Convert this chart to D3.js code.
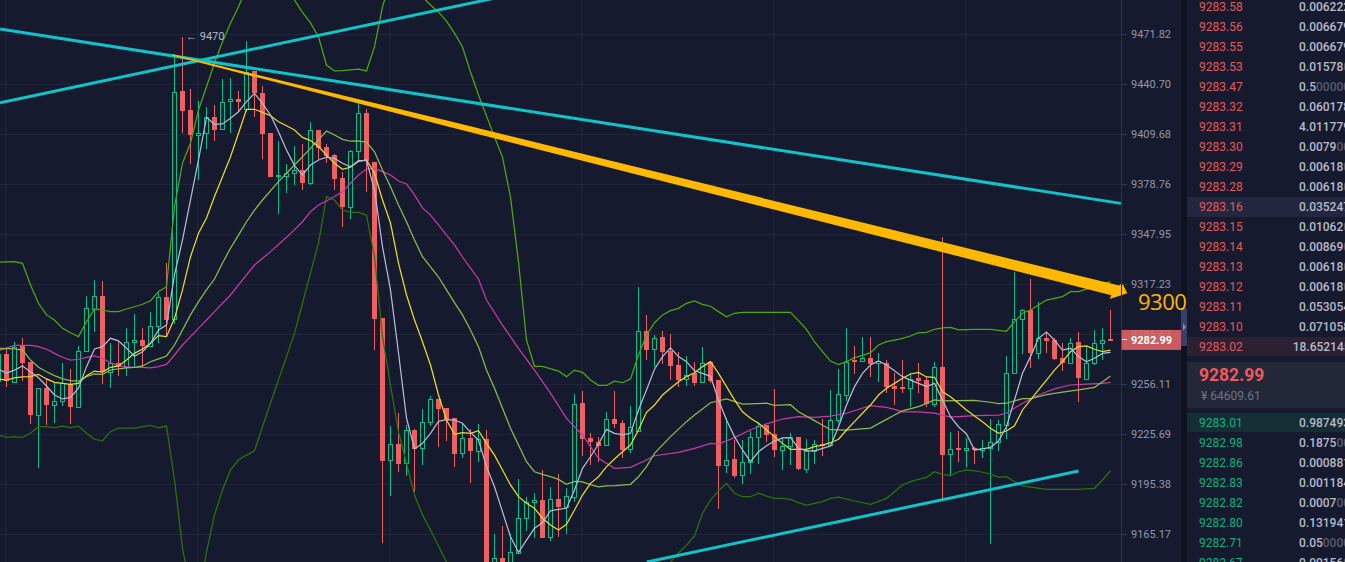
<!DOCTYPE html>
<html>
<head>
<meta charset="utf-8">
<title>chart</title>
<script src="https://cdn.jsdelivr.net/npm/d3@7"></script>
<style>
html, body { margin: 0; padding: 0; background: #161a2e; overflow: hidden; }
svg { display: block; font-family: Roboto, sans-serif; }
</style>
</head>
<body>
<svg width="1345" height="562"></svg>
<script>
// candles start at index -1, rows are open, high, low, close
const firstIdx = -1;
const candles = [
[9257.9,9276.8,9252.4,9274.4],[9274.4,9277.3,9254.5,9257.9],[9257.5,9281.5,9256.5,9278.7],[9279.7,9284.0,9257.9,9269.1],
[9269.3,9269.3,9231.8,9237.4],[9237.4,9253.5,9205.2,9253.5],[9253.7,9259.6,9231.2,9243.5],[9243.5,9257.5,9232.2,9245.9],
[9245.9,9269.1,9242.9,9256.5],[9256.1,9265.1,9231.6,9242.3],[9242.3,9279.1,9242.3,9276.0],[9276.0,9309.8,9276.0,9302.3],
[9302.1,9319.7,9288.0,9309.6],[9309.8,9318.9,9255.9,9263.6],[9263.6,9280.9,9253.9,9268.7],[9268.7,9281.9,9261.2,9266.3],
[9266.7,9290.1,9261.2,9281.5],[9281.5,9299.0,9266.7,9282.8],[9282.8,9290.5,9266.7,9279.5],[9279.5,9299.9,9278.9,9291.7],
[9291.7,9311.5,9281.3,9309.1],[9309.2,9330.1,9285.4,9295.2],[9295.6,9457.7,9292.7,9435.9],[9436.4,9470.1,9410.1,9424.1],
[9424.6,9437.6,9391.1,9409.2],[9409.2,9430.2,9381.1,9410.1],[9410.1,9426.3,9400.2,9420.1],[9420.1,9427.7,9405.6,9412.4],
[9412.6,9443.8,9412.6,9429.7],[9430.0,9444.2,9410.5,9431.2],[9431.2,9436.2,9423.5,9429.7],[9425.0,9467.3,9423.5,9448.4],
[9448.8,9449.0,9420.1,9434.9],[9434.9,9439.5,9394.1,9409.7],[9410.3,9410.3,9383.3,9383.3],[9383.5,9405.4,9360.3,9384.2],
[9383.9,9391.1,9373.0,9385.4],[9385.4,9402.5,9378.0,9387.3],[9387.3,9403.5,9375.2,9379.6],[9379.6,9417.0,9378.3,9412.0],
[9412.2,9412.2,9394.1,9401.2],[9401.6,9403.3,9391.6,9396.1],[9396.7,9397.3,9375.1,9381.8],[9382.5,9386.4,9352.5,9364.6],
[9364.8,9399.6,9357.2,9399.3],[9399.3,9428.7,9392.8,9422.5],[9422.7,9425.0,9374.1,9392.8],[9392.4,9392.4,9277.0,9296.0],
[9296.4,9296.4,9159.9,9209.5],[9209.7,9230.6,9188.1,9219.4],[9219.6,9238.3,9202.8,9207.7],[9207.9,9231.2,9200.4,9227.9],
[9228.1,9228.7,9190.7,9216.6],[9217.0,9241.1,9206.9,9233.2],[9233.2,9248.9,9230.7,9246.8],[9247.0,9247.0,9218.0,9240.9],
[9241.3,9241.3,9221.4,9234.2],[9235.4,9235.4,9205.9,9213.7],[9214.0,9231.6,9211.3,9223.0],[9223.0,9228.7,9196.2,9215.5],
[9215.5,9231.6,9208.9,9222.4],[9222.4,9228.1,9134.5,9140.5],[9142.3,9165.0,9137.4,9150.5],[9150.5,9170.0,9137.4,9143.5],
[9144.7,9165.0,9138.6,9154.1],[9153.9,9198.2,9153.9,9174.7],[9174.7,9187.4,9167.2,9184.3],[9184.3,9189.8,9162.6,9185.5],
[9185.7,9203.9,9162.9,9162.9],[9163.2,9193.7,9161.1,9186.1],[9186.3,9201.4,9163.2,9181.5],[9181.7,9192.8,9165.2,9187.9],
[9187.7,9250.0,9184.5,9244.1],[9244.5,9251.6,9212.3,9222.8],[9223.3,9226.1,9206.7,9220.8],[9220.8,9224.1,9208.9,9218.4],
[9218.8,9239.1,9218.8,9234.6],[9234.6,9252.0,9229.5,9232.0],[9232.2,9234.2,9210.9,9216.0],[9216.4,9242.9,9214.3,9229.8],
[9227.7,9315.6,9227.7,9288.3],[9288.5,9298.0,9270.9,9277.0],[9277.3,9286.0,9266.7,9284.3],[9284.8,9288.5,9268.5,9275.8],
[9276.4,9286.4,9258.7,9267.1],[9267.7,9275.6,9254.5,9258.5],[9259.0,9273.2,9254.7,9261.8],[9262.6,9269.3,9255.1,9256.9],
[9257.1,9278.9,9257.1,9268.7],[9269.3,9269.7,9256.5,9257.9],[9258.7,9258.7,9180.1,9206.5],[9206.7,9235.4,9202.2,9210.1],
[9210.5,9222.0,9199.0,9200.4],[9200.6,9221.8,9195.6,9208.5],[9208.7,9227.5,9201.6,9223.7],[9223.7,9233.2,9207.7,9230.7],
[9230.9,9230.9,9220.7,9225.3],[9225.7,9252.8,9211.7,9216.2],[9216.2,9223.7,9204.1,9218.2],[9218.2,9226.1,9206.9,9223.7],
[9223.9,9223.9,9204.1,9204.5],[9204.6,9222.5,9202.0,9215.4],[9215.2,9222.2,9207.7,9219.4],[9219.8,9234.6,9212.3,9218.2],
[9218.8,9252.3,9218.8,9234.0],[9234.0,9265.1,9232.2,9249.8],[9249.6,9290.5,9245.9,9269.7],[9270.7,9279.3,9262.2,9269.7],
[9269.9,9284.8,9269.9,9271.8],[9271.8,9285.0,9260.6,9268.5],[9268.9,9274.8,9257.1,9270.1],[9268.7,9270.7,9250.8,9254.5],
[9254.9,9263.0,9243.3,9253.2],[9254.5,9270.7,9250.5,9253.1],[9253.5,9262.6,9242.3,9259.3],[9259.6,9268.7,9250.5,9258.1],
[9258.5,9260.6,9242.3,9243.9],[9243.9,9269.7,9242.3,9266.3],[9266.3,9346.3,9186.3,9212.9],[9213.4,9227.1,9200.4,9216.4],
[9217.0,9227.5,9208.9,9216.2],[9216.2,9223.0,9205.5,9217.0],[9217.0,9218.0,9207.5,9216.0],[9216.2,9222.0,9211.3,9217.4],
[9217.0,9234.8,9158.9,9220.7],[9220.8,9234.2,9215.5,9231.6],[9231.3,9273.4,9222.7,9262.6],[9262.6,9324.8,9262.6,9295.6],
[9295.6,9301.9,9274.2,9301.1],[9301.1,9320.1,9266.0,9275.2],[9275.2,9306.0,9271.4,9284.2],[9284.0,9288.0,9274.8,9282.5],
[9282.9,9284.0,9270.7,9271.4],[9271.8,9280.9,9264.2,9268.7],[9269.1,9284.3,9269.1,9281.3],[9281.5,9287.8,9244.9,9259.6],
[9259.3,9279.5,9258.5,9268.7],[9268.7,9289.1,9267.7,9281.3],[9281.3,9290.1,9270.7,9282.8],[9283.6,9301.3,9283.0,9283.0]
];

// moving averages, one value per candle from index -1
const ma5 = [9265.1,9262.8,9264.6,9267.1,9263.6,9259.9,9254.9,9249.4,9247.0,9248.0,9253.5,9266.7,9277.5,9278.9,9284.0,9282.4,9277.9,9273.0,9275.8,9280.9,
9289.1,9292.1,9322.8,9344.3,9368.9,9393.6,9420.0,9415.7,9415.9,9419.4,9423.5,9429.7,9434.9,9428.7,9421.4,9411.1,9399.8,9390.1,9384.3,9390.5,
9393.6,9395.3,9394.6,9391.6,9389.4,9393.2,9393.2,9375.1,9340.1,9313.6,9275.0,9235.4,9216.6,9220.0,9226.1,9233.4,9234.4,9234.2,9232.2,9226.7,
9222.0,9205.9,9193.7,9178.6,9163.5,9154.1,9161.5,9168.6,9172.0,9179.2,9180.1,9180.7,9191.8,9204.9,9211.9,9219.6,9228.5,9226.1,9225.1,9226.1,
9240.3,9252.5,9265.1,9272.8,9278.1,9272.8,9269.7,9264.2,9262.6,9260.8,9246.4,9234.2,9224.1,9216.0,9208.9,9214.9,9218.6,9221.4,9223.3,9223.5,
9217.0,9215.4,9215.5,9217.0,9218.4,9230.1,9243.3,9254.5,9262.6,9267.7,9270.1,9267.7,9264.2,9260.6,9258.5,9256.5,9254.5,9256.5,9246.4,9236.2,
9230.1,9225.7,9216.0,9216.6,9217.6,9221.4,9230.1,9246.4,9262.6,9272.8,9284.0,9287.8,9282.9,9276.8,9277.9,9272.8,9269.7,9271.8,9274.8,9275.4];
const ma10 = [9259.2,9258.5,9259.9,9260.4,9260.6,9262.0,9259.2,9257.1,9256.5,9255.9,9256.5,9261.2,9264.0,9263.4,9266.3,9267.1,9270.7,9274.8,9277.5,9280.9,
9285.6,9285.0,9296.2,9313.6,9334.0,9348.4,9357.8,9371.0,9383.3,9395.6,9410.1,9425.0,9425.0,9423.1,9421.0,9417.3,9414.8,9412.2,9407.6,9405.6,
9401.9,9396.7,9391.6,9387.8,9389.1,9392.8,9393.6,9385.4,9368.9,9354.7,9330.1,9310.5,9295.2,9281.9,9267.7,9249.4,9234.2,9225.5,9226.5,9226.1,
9227.7,9220.0,9212.9,9203.9,9194.8,9187.7,9183.7,9180.7,9174.7,9170.6,9167.6,9171.0,9179.7,9188.7,9195.8,9199.8,9205.9,9210.5,9214.9,9219.0,
9228.1,9238.9,9243.3,9249.4,9253.5,9257.5,9260.6,9263.0,9266.7,9269.7,9262.6,9254.5,9246.4,9239.2,9235.2,9232.2,9228.1,9224.1,9220.0,9216.4,
9216.4,9216.4,9218.0,9219.0,9220.4,9222.5,9228.1,9233.2,9238.3,9243.3,9249.4,9253.5,9256.5,9259.6,9262.2,9263.2,9260.4,9260.2,9251.4,9248.4,
9244.4,9240.3,9236.6,9233.2,9229.2,9226.1,9227.5,9230.7,9240.3,9246.4,9252.5,9258.5,9264.6,9269.7,9275.8,9278.9,9279.3,9277.3,9275.8,9276.7];

// slower lines, read only where they bend: candle index then price
const ma30 = [[-1,9277.9],[1,9277.5],[2,9276.8],[3,9270.7],[4,9266.3],[5,9263.6],[6,9261.2],[7,9259.2],[8,9258.1],[9,9257.8],[10,9260.6],[11,9262.2],[12,9262.0],[13,9264.6],[14,9265.4],[15,9265.9],[16,9266.3],[17,9267.1],[18,9269.7],[19,9271.4],[20,9273.2],[21,9279.9],[22,9289.1],[23,9298.3],[24,9306.4],[25,9313.6],[26,9320.3],[27,9330.1],[28,9339.2],[29,9347.3],[30,9355.5],[31,9362.7],[32,9368.9],[34,9380.2],[36,9390.5],[38,9400.8],[40,9411.5],[41,9409.1],[42,9406.4],[43,9405.2],[44,9405.4],[45,9404.6],[46,9398.7],[47,9387.4],[48,9377.1],[49,9365.8],[50,9355.5],[51,9344.3],[52,9334.0],[53,9327.7],[54,9321.5],[55,9313.6],[56,9305.8],[57,9298.3],[58,9289.1],[59,9278.9],[60,9264.6],[61,9253.5],[62,9241.3],[63,9229.2],[64,9219.0],[65,9208.9],[66,9202.8],[67,9201.2],[68,9199.8],[69,9198.2],[70,9195.2],[71,9197.0],[72,9196.6],[73,9195.0],[74,9193.7],[75,9194.2],[76,9194.4],[78,9195.2],[79,9199.8],[80,9205.9],[81,9213.9],[83,9224.1],[85,9233.2],[86,9237.2],[88,9244.7],[90,9247.0],[92,9243.9],[95,9244.4],[96,9243.1],[98,9243.5],[99,9239.2],[101,9233.8],[103,9228.3],[105,9228.1],[108,9229.3],[110,9234.6],[111,9237.2],[112,9239.7],[114,9242.3],[116,9246.4],[117,9245.9],[121,9246.2],[123,9245.0],[124,9244.1],[125,9244.4],[127,9247.2],[128,9247.2],[130,9249.6],[132,9251.1],[134,9252.5],[136,9254.1],[137,9257.5],[138,9261.0]];
const ma60 = [[-1,9276.4],[1,9279.7],[3,9279.7],[4,9278.9],[5,9277.3],[6,9274.8],[7,9272.4],[8,9270.7],[9,9271.2],[10,9272.4],[11,9273.2],[12,9271.8],[13,9269.1],[14,9267.3],[15,9266.7],[16,9266.3],[17,9266.3],[18,9266.0],[19,9266.7],[20,9268.1],[21,9273.8],[22,9279.9],[23,9285.0],[24,9290.1],[26,9300.3],[28,9310.5],[30,9322.8],[31,9328.9],[33,9337.1],[35,9345.9],[37,9355.5],[38,9361.7],[39,9365.8],[40,9368.3],[41,9371.0],[42,9374.0],[43,9379.2],[44,9384.3],[45,9388.0],[46,9388.4],[47,9386.4],[48,9384.3],[49,9380.6],[50,9378.8],[51,9372.0],[52,9364.0],[53,9359.6],[54,9353.5],[55,9347.3],[56,9341.2],[57,9333.8],[58,9327.0],[59,9320.3],[60,9307.4],[62,9292.1],[64,9277.9],[66,9264.6],[68,9250.5],[70,9235.2],[72,9225.1],[74,9210.9],[76,9204.9],[78,9205.5],[80,9209.9],[81,9212.5],[84,9214.6],[86,9217.0],[88,9220.0],[89,9219.6],[91,9223.5],[93,9228.3],[95,9231.8],[97,9234.8],[99,9236.2],[101,9235.8],[103,9236.6],[105,9238.3],[108,9242.9],[110,9241.9],[111,9240.7],[112,9239.2],[114,9239.2],[116,9238.4],[118,9236.0],[121,9236.8],[124,9237.2],[125,9238.3],[127,9244.4],[129,9249.4],[131,9253.1],[133,9255.5],[135,9256.1],[137,9256.5],[138,9257.1]];
const bollUp = [[-1,9330.7],[1,9330.9],[2,9329.9],[3,9316.6],[4,9305.4],[5,9298.3],[6,9295.2],[7,9290.1],[8,9287.4],[9,9285.0],[10,9294.2],[11,9301.9],[12,9301.3],[13,9300.3],[14,9300.3],[15,9301.9],[16,9303.3],[17,9304.8],[18,9307.0],[19,9312.5],[20,9315.6],[21,9364.8],[22,9391.7],[23,9404.1],[24,9424.6],[25,9439.0],[26,9453.8],[27,9467.0],[28,9478.5],[29,9488.8],[30,9500.5],[31,9508.6],[33,9518.0],[35,9502.4],[36,9493.0],[37,9485.3],[38,9478.7],[39,9470.1],[40,9452.5],[41,9448.8],[42,9449.0],[43,9449.5],[44,9449.9],[45,9448.8],[46,9463.9],[47,9488.8],[48,9505.5],[49,9518.0],[50,9514.9],[51,9505.5],[52,9494.9],[53,9489.9],[54,9485.5],[55,9479.9],[56,9472.4],[57,9463.7],[58,9448.2],[59,9433.9],[60,9420.9],[61,9407.8],[62,9395.4],[63,9370.7],[64,9330.7],[65,9282.9],[66,9266.9],[67,9266.9],[69,9264.0],[70,9260.6],[71,9264.6],[72,9263.2],[73,9258.5],[74,9255.3],[75,9255.3],[76,9257.8],[77,9256.9],[78,9259.2],[79,9273.8],[80,9286.0],[81,9293.5],[82,9298.3],[83,9300.9],[84,9302.3],[85,9305.4],[86,9306.8],[87,9304.8],[88,9303.6],[89,9300.3],[90,9297.2],[91,9299.3],[92,9299.9],[98,9299.9],[99,9294.8],[100,9289.5],[101,9281.9],[102,9275.8],[103,9270.1],[104,9267.9],[105,9269.7],[106,9272.2],[107,9273.6],[108,9275.2],[109,9279.9],[110,9281.9],[111,9282.9],[112,9284.0],[113,9285.4],[114,9287.4],[115,9287.6],[116,9289.5],[117,9290.3],[118,9290.7],[119,9289.1],[121,9289.5],[123,9289.5],[125,9288.3],[126,9294.2],[127,9299.3],[128,9301.3],[129,9304.4],[130,9307.4],[132,9309.5],[133,9312.5],[134,9312.5],[136,9315.6],[137,9317.6],[138,9318.6]];
const bollLow = [[-1,9225.1],[0,9223.7],[1,9224.1],[2,9223.7],[3,9226.1],[4,9230.1],[5,9230.1],[6,9229.5],[7,9230.5],[8,9229.5],[9,9230.5],[10,9226.1],[11,9222.5],[12,9221.6],[13,9227.1],[14,9229.2],[16,9229.3],[18,9231.0],[19,9229.5],[20,9230.5],[21,9197.8],[22,9156.7],[23,9131.4],[24,9125.4],[25,9154.3],[26,9176.7],[27,9191.8],[28,9203.9],[29,9209.9],[30,9212.9],[31,9215.5],[32,9230.1],[33,9244.4],[34,9258.5],[35,9272.8],[36,9287.0],[37,9305.6],[38,9323.9],[39,9342.4],[40,9371.0],[41,9368.9],[42,9362.7],[43,9361.3],[44,9361.3],[45,9359.6],[46,9334.0],[47,9285.0],[48,9255.5],[49,9226.9],[50,9208.1],[51,9188.7],[52,9176.7],[53,9167.6],[54,9157.9],[55,9148.3],[56,9137.4],[60,9101.4],[70,9077.6],[80,9101.0],[83,9148.3],[84,9153.7],[85,9158.5],[86,9164.0],[87,9177.7],[88,9185.7],[89,9191.2],[90,9195.8],[91,9189.8],[92,9187.7],[93,9187.7],[94,9189.8],[95,9188.1],[96,9186.7],[97,9186.7],[98,9186.1],[99,9184.1],[100,9182.5],[101,9183.7],[102,9184.7],[103,9186.7],[104,9187.4],[106,9185.1],[108,9183.1],[110,9186.7],[111,9190.7],[112,9194.8],[113,9196.8],[114,9198.2],[115,9199.4],[116,9202.8],[117,9201.2],[118,9200.4],[119,9202.8],[120,9203.9],[121,9203.4],[122,9202.5],[123,9201.4],[124,9199.4],[125,9199.8],[126,9196.8],[127,9194.2],[130,9192.2],[134,9192.2],[136,9192.8],[137,9197.8],[138,9203.4]];

// hand drawn trend lines, candle index and price of both ends
const trendLines = [
  [[-0.8,9474.9],[139.3,9366.8]],
  [[-0.8,9429.1],[61,9494.2]],
  [[80.05,9148.3],[134,9203.2]]
];
const arrowLine = [[20.75,9458.8],[140.1,9311.5]];

const tickLabels = [9471.82,9440.70,9409.68,9378.76,9347.95,9317.23,9286.62,9256.11,9225.69,9195.38,9165.17];
const gridIdx = [0,24,48,72,96,120];
const lastPrice = 9282.99;

// order book, [price, digits shown bright, dimmed tail]
const sellRows = [
["9283.58","0.006222",""],["9283.56","0.006679",""],["9283.55","0.006679",""],["9283.53","0.01578","0"],
["9283.47","0.5","00000"],["9283.32","0.060178",""],["9283.31","4.011779",""],["9283.30","0.0079","00"],
["9283.29","0.00618","0"],["9283.28","0.00618","0"],["9283.16","0.035247",""],["9283.15","0.01062","0"],
["9283.14","0.00869","0"],["9283.13","0.00618","0"],["9283.12","0.00618","0"],["9283.11","0.053054",""],
["9283.10","0.071058",""],["9283.02","18.652145",""]
];
const buyRows = [
["9283.01","0.987493",""],["9282.98","0.1875","00"],["9282.86","0.000881",""],["9282.83","0.001184",""],
["9282.82","0.0007","00"],["9282.80","0.131941",""],["9282.71","0.05","0000"],["9282.67","0.00156","0"]
];

const BG = "#161a2e", UP = "#05c08c", DOWN = "#ee6061", AMBER = "#ffb800";

const svg = d3.select("svg");
const plotW = 1121;

const x = d3.scaleLinear().domain([0, 138]).range([6.5, 1110.5]);
const y = d3.scaleLog().domain([9165.17, 9471.82]).range([534, 34]);

svg.append("rect").attr("width", 1345).attr("height", 562).attr("fill", BG);

svg.append("clipPath").attr("id", "plot").append("rect")
    .attr("width", plotW).attr("height", 562);

// grid
const grid = svg.append("g").attr("stroke", "#20253a").attr("shape-rendering", "crispEdges");
grid.selectAll(".h").data(tickLabels).enter().append("line")
    .attr("x1", 0).attr("x2", plotW)
    .attr("y1", d => Math.round(y(d)) + 0.5).attr("y2", d => Math.round(y(d)) + 0.5);
grid.selectAll(".v").data(gridIdx).enter().append("line")
    .attr("x1", d => x(d) - 1).attr("x2", d => x(d) - 1)
    .attr("y1", 0).attr("y2", 562);

const plot = svg.append("g").attr("clip-path", "url(#plot)");

// candles
const cg = plot.append("g").attr("shape-rendering", "crispEdges");
candles.forEach((c, k) => {
    let cx = x(k + firstIdx);
    let up = c[3] >= c[0];
    let col = up ? UP : DOWN;
    let top = Math.round(y(Math.max(c[0], c[3])));
    let bot = Math.round(y(Math.min(c[0], c[3])));
    cg.append("line").attr("x1", cx).attr("x2", cx)
        .attr("y1", y(c[1])).attr("y2", y(c[2])).attr("stroke", col);
    if (up) {
        cg.append("rect").attr("x", cx - 2).attr("width", 4)
            .attr("y", top + 0.5).attr("height", Math.max(bot - top, 1))
            .attr("fill", BG).attr("stroke", col);
    } else {
        cg.append("rect").attr("x", cx - 2.5).attr("width", 5)
            .attr("y", top).attr("height", Math.max(bot - top, 2))
            .attr("fill", col);
    }
});

// indicator lines
const line = d3.line().x(d => x(d[0])).y(d => y(d[1]));
const seq = vals => vals.map((v, k) => [k + firstIdx, v]);
const series = [
    [bollLow, "#2e7306"],
    [bollUp, "#50a80c"],
    [ma60, "#c63ca4"],
    [ma30, "#8cbc4c"],
    [seq(ma10), "#ecdb25"],
    [seq(ma5), "#b6bad3"]
];
series.forEach(s => {
    plot.append("path").datum(s[0]).attr("d", line)
        .attr("fill", "none").attr("stroke", s[1]).attr("stroke-width", 1.25);
});

// trend lines
trendLines.forEach(t => {
    plot.append("path").datum(t).attr("d", line)
        .attr("fill", "none").attr("stroke", "#10c3c6").attr("stroke-width", 3);
});

// tapered arrow, half widths grow unevenly along the shaft
function arrowPath() {
    let a = {x: x(arrowLine[0][0]), y: y(arrowLine[0][1])};
    let b = {x: x(arrowLine[1][0]), y: y(arrowLine[1][1])};
    let len = Math.hypot(b.x - a.x, b.y - a.y);
    let ux = (b.x - a.x) / len, uy = (b.y - a.y) / len;
    let nx = -uy, ny = ux;
    let at = (s, w) => [a.x + ux * s + nx * w, a.y + uy * s + ny * w];
    return [at(0, -0.7), at(len * 0.29, -2.8), at(len * 0.76, -4.7), at(len - 10, -5.6), at(len - 7.3, -8.5), [b.x, b.y],
            at(len - 15.8, 9.7), at(len - 15, 5.6), at(len * 0.76, 4.7), at(len * 0.29, 2.8), at(0, 0.7)];
}
svg.append("polygon").attr("points", arrowPath().join(" ")).attr("fill", AMBER);

// price axis
const axis = d3.axisRight(y).tickValues(tickLabels).tickFormat(d3.format(".2f")).tickSize(6).tickPadding(4);
const ag = svg.append("g").attr("transform", `translate(${plotW},0)`).call(axis);
ag.select(".domain").remove();
ag.selectAll("line").attr("stroke", "#343a58");
ag.selectAll("text").attr("fill", "#9397ad").attr("font-size", 11).attr("font-family", "Roboto");
svg.append("line").attr("x1", plotW + 0.5).attr("x2", plotW + 0.5).attr("y1", 0).attr("y2", 562)
    .attr("stroke", "#2c324f");

// peak note
svg.append("text").attr("x", x(22) + 3.5).attr("y", y(candles[23][1]) + 3.5)
    .attr("fill", "#b5b9ca").attr("font-size", 11).text("← 9470");

// last price tag
const tagY = y(lastPrice);
svg.append("rect").attr("x", plotW + 0.5).attr("y", tagY - 10).attr("width", 59.5).attr("height", 20)
    .attr("fill", "#e76868").attr("opacity", 0.85);
svg.append("line").attr("x1", plotW + 1).attr("x2", plotW + 6).attr("y1", tagY).attr("y2", tagY)
    .attr("stroke", "#fff").attr("shape-rendering", "crispEdges");
svg.append("text").attr("x", 1131).attr("y", tagY + 4)
    .attr("fill", "#fff").attr("font-size", 11).attr("font-weight", 700).text(d3.format(".2f")(lastPrice));

// divider and collapse handle
svg.append("rect").attr("x", 1181).attr("y", 0).attr("width", 6).attr("height", 562).attr("fill", "#0e1120");
svg.append("rect").attr("x", 1181).attr("y", 308).attr("width", 6).attr("height", 38).attr("fill", "#38406a");
svg.append("path").attr("d", "M1183,323 L1186,327 L1183,331 Z").attr("fill", "#8088a8");

// target label sits over the divider
svg.append("text").attr("x", 1138).attr("y", 310).attr("letter-spacing", -0.5)
    .attr("fill", AMBER).attr("font-size", 22).attr("font-family", "'Open Sans'").text("9300");

// order book
const book = svg.append("g");
const rowBg = (top, h, col, x0) => book.append("rect")
    .attr("x", x0 || 1187).attr("y", top).attr("width", 1345 - (x0 || 1187)).attr("height", h).attr("fill", col);
rowBg(197, 20, "#22273f");
rowBg(337, 19, "#2b2133");
rowBg(362, 46, "#232839");
rowBg(413, 19, "#152e36");

function bookRow(r, cy, col) {
    book.append("text").attr("x", 1199).attr("y", cy + 4.5)
        .attr("fill", col).attr("font-size", 12).text(r[0]);
    let q = book.append("text").attr("x", r[1].length > 8 ? 1292.7 : 1299).attr("y", cy + 4.5)
        .attr("font-size", 12).attr("font-weight", 500).attr("fill", "#b6bacb");
    q.append("tspan").text(r[1]);
    q.append("tspan").attr("fill", "#555a70").text(r[2]);
}
sellRows.forEach((r, k) => bookRow(r, 6.7 + k * 20, "#e5585b"));
buyRows.forEach((r, k) => bookRow(r, 422.7 + k * 20, "#0bb382"));

book.append("text").attr("x", 1199).attr("y", 381)
    .attr("fill", "#f0595c").attr("font-size", 17.5).attr("font-weight", 700).text(d3.format(".2f")(lastPrice));
book.append("text").attr("x", 1201).attr("y", 400)
    .attr("fill", "#6d7288").attr("font-size", 12).text("¥ 64609.61");
</script>
</body>
</html>
